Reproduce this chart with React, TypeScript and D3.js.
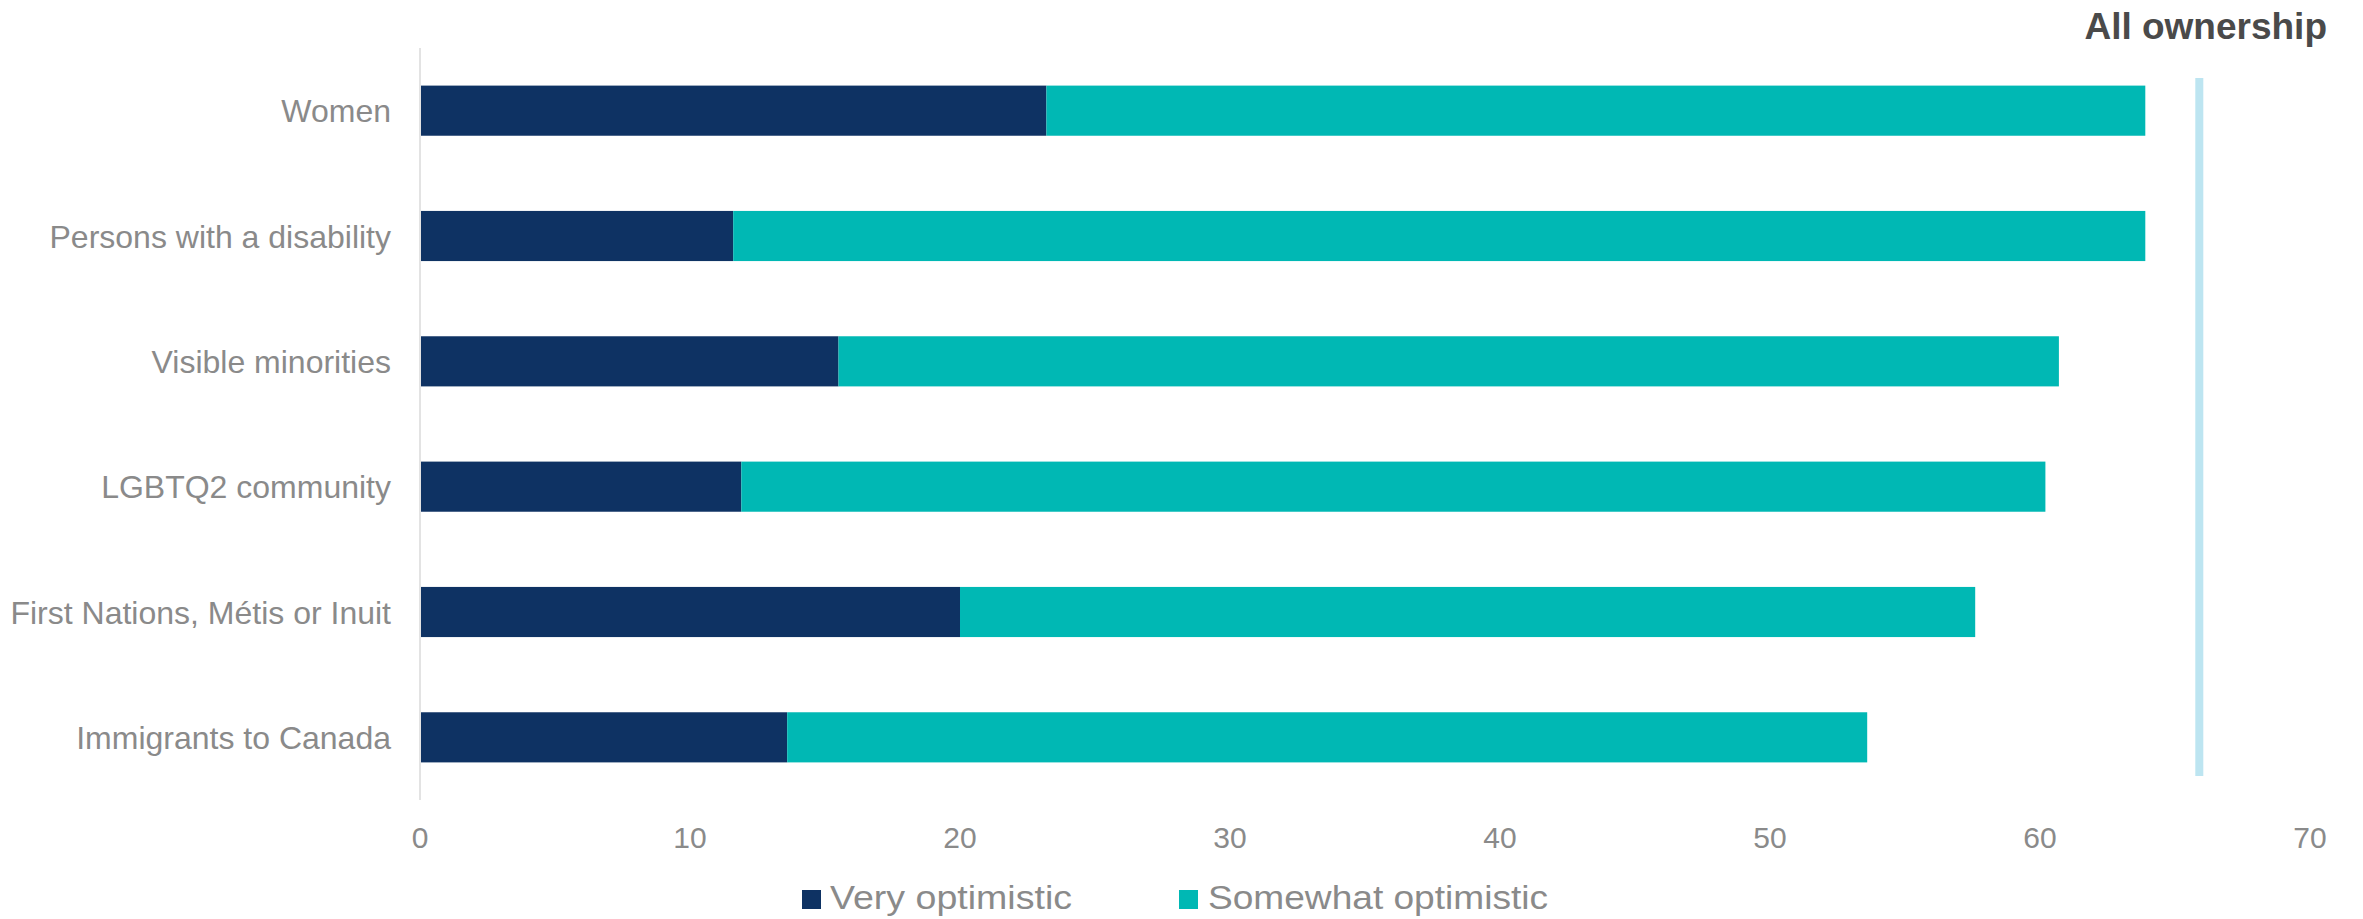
import React from "react";
import * as d3 from "d3";

const categories = [
  "Women",
  "Persons with a disability",
  "Visible minorities",
  "LGBTQ2 community",
  "First Nations, Métis or Inuit",
  "Immigrants to Canada",
];
const veryOptimistic = [23.2, 11.6, 15.5, 11.9, 20.0, 13.6];
const somewhatOptimistic = [40.7, 52.3, 45.2, 48.3, 37.6, 40.0];
const seriesNames = ["Very optimistic", "Somewhat optimistic"];
const xTicks = [0, 10, 20, 30, 40, 50, 60, 70];
const allOwnershipValue = 65.9;
const allOwnershipLabel = "All ownership";

const W = 2363;
const H = 919;
const FONT = "'Liberation Sans', Arial, Helvetica, sans-serif";
const NAVY = "#0E3263";
const TEAL = "#00B8B4";
const GRAY = "#8A8A8A";

export default function App() {
  const x = d3.scaleLinear().domain([0, 70]).range([420, 2310]);
  const y = d3
    .scaleBand<string>()
    .domain(categories)
    .range([48, 800])
    .paddingInner(0.6)
    .paddingOuter(0.3);

  const rows = categories.map((c, i) => ({
    c,
    v: veryOptimistic[i],
    s: somewhatOptimistic[i],
  }));
  const stack = d3.stack<any>().keys(["v", "s"])(rows);
  const colors = [NAVY, TEAL];

  const [y0, y1] = y.range();

  return (
    <svg
      width={W}
      height={H}
      style={{ position: "absolute", left: 0, top: 0, display: "block", background: "#fff" }}
      fontFamily={FONT}
    >
      {/* bars */}
      {stack.map((layer, li) => (
        <g key={li} fill={colors[li]}>
          {layer.map((d, i) => (
            <rect
              key={i}
              x={x(d[0]) + (li === 0 ? 1 : 0)}
              y={y(categories[i])!}
              width={x(d[1]) - x(d[0]) - (li === 0 ? 1 : 0)}
              height={y.bandwidth()}
            />
          ))}
        </g>
      ))}

      {/* y axis line */}
      <line x1={x(0)} x2={x(0)} y1={y0} y2={y1} stroke="#E3E3E3" strokeWidth={2} />

      {/* category labels */}
      {categories.map((c) => (
        <text
          key={c}
          x={391}
          y={y(c)! + y.bandwidth() / 2 + 11.5}
          textAnchor="end"
          fontSize={32}
          fill={GRAY}
        >
          {c}
        </text>
      ))}

      {/* x tick labels */}
      {xTicks.map((t) => (
        <text key={t} x={x(t)} y={848} textAnchor="middle" fontSize={30} fill={GRAY}>
          {t}
        </text>
      ))}

      {/* all ownership reference line */}
      <line
        x1={x(allOwnershipValue)}
        x2={x(allOwnershipValue)}
        y1={y0 + 30}
        y2={y1 - 24}
        stroke="#BDE5F1"
        strokeWidth={8}
      />
      <text
        x={2327}
        y={39}
        textAnchor="end"
        fontSize={37}
        fontWeight="bold"
        fill="#4A4A4A"
      >
        {allOwnershipLabel}
      </text>

      {/* legend */}
      <g>
        <rect x={802} y={890} width={19} height={19} fill={NAVY} />
        <text x={830} y={909} fontSize={33} fill={GRAY} textLength={242} lengthAdjust="spacingAndGlyphs">
          {seriesNames[0]}
        </text>
        <rect x={1179} y={890} width={19} height={19} fill={TEAL} />
        <text x={1208} y={909} fontSize={33} fill={GRAY} textLength={340} lengthAdjust="spacingAndGlyphs">
          {seriesNames[1]}
        </text>
      </g>
    </svg>
  );
}
